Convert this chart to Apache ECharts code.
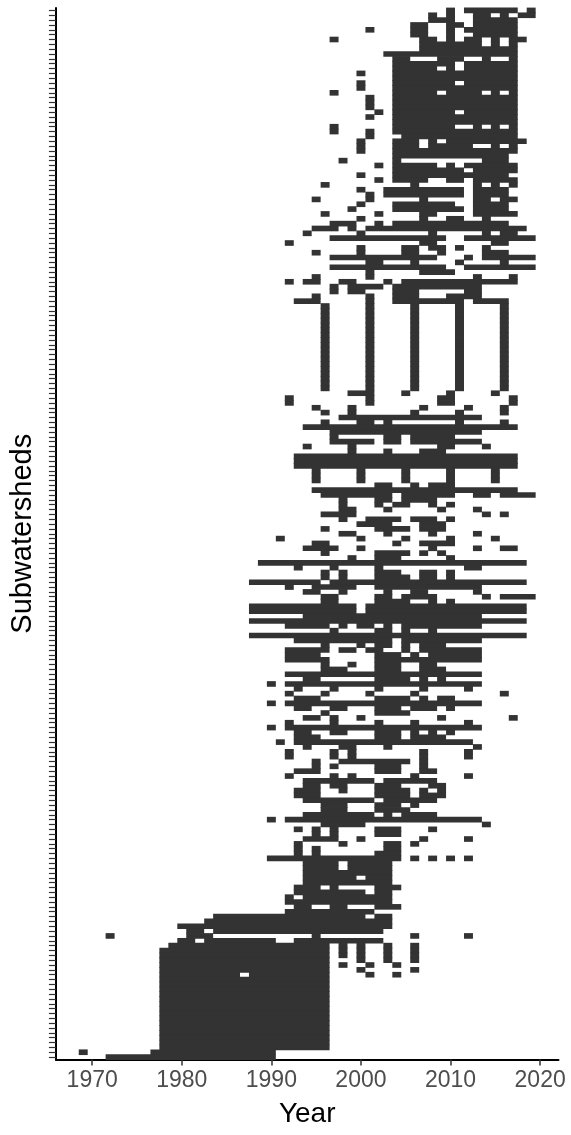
<!DOCTYPE html>
<html>
<head>
<meta charset="utf-8">
<script src="https://cdn.jsdelivr.net/npm/echarts@6/dist/echarts.min.js"></script>
<style>
  html, body { margin: 0; padding: 0; background: #fff; }
  #chart { width: 571px; height: 1135px; }
</style>
</head>
<body>
<div id="chart"></div>
<script>
// years with data per subwatershed, top row first; [y] = one year, [a, b] = a..b
const rowsTop = [
  [[2010],[2012,2017],[2019]],
  [[2008],[2010],[2013,2014],[2016],[2018,2019]],
  [[2008,2010],[2013,2017]],
  [[2006,2007],[2010,2011],[2013,2017]],
  [[2001],[2006,2007],[2010],[2012,2017]],
  [[2006,2007],[2010],[2013,2017]],
  [[1997],[2007,2008],[2010],[2012,2013],[2015],[2017,2018]],
  [[2007,2013],[2015],[2017]],
  [[2007,2017]],
  [[2003,2017]],
  [[2004,2005],[2009,2011],[2014],[2017]],
  [[2004,2010],[2012,2017]],
  [[2004,2008],[2010],[2012,2017]],
  [[2000],[2004,2017]],
  [[2004,2017]],
  [[2000],[2004,2010],[2012,2017]],
  [[2000],[2004,2017]],
  [[1997],[2004,2008],[2010,2013],[2015],[2017]],
  [[2001],[2004,2017]],
  [[2001],[2004,2017]],
  [[2001],[2004,2017]],
  [[2002],[2004,2010],[2012,2017]],
  [[2001],[2004,2017]],
  [[2004,2017]],
  [[1997],[2004,2010],[2013],[2015],[2017]],
  [[1997],[2001],[2004,2017]],
  [[2001],[2005,2017]],
  [[2000],[2004,2006],[2008],[2010,2018]],
  [[2000],[2004,2006],[2008,2012],[2015],[2017]],
  [[2000],[2004,2017]],
  [[2004,2016]],
  [[1998],[2004],[2014,2016]],
  [[2002],[2004,2008],[2010],[2012,2017]],
  [[2004,2011],[2013,2017]],
  [[2000],[2004,2016]],
  [[2002],[2004,2007],[2010,2011],[2013,2017]],
  [[1996],[2006],[2013],[2015],[2017]],
  [[2000],[2003,2011],[2013,2016]],
  [[2001],[2003,2011],[2013,2016]],
  [[1995],[2001],[2007],[2013,2014],[2016,2017]],
  [[2000],[2004,2010],[2013,2016]],
  [[1999],[2004,2011],[2013,2016]],
  [[1996],[2002],[2007,2008],[2013,2017]],
  [[2000],[2007],[2010,2011],[2014]],
  [[1997,1999],[2002],[2004,2016]],
  [[1995,1997],[1999],[2001,2018]],
  [[1994],[2000],[2008],[2014],[2016,2017]],
  [[1997,2009],[2012,2019]],
  [[1992],[2007,2008],[2015,2016]],
  [[2000],[2005,2006],[2008,2009],[2011],[2014]],
  [[1995],[2000],[2005,2006],[2009],[2014,2016]],
  [[1997,2008],[2012],[2014,2019]],
  [[2001,2002],[2006],[2011],[2016]],
  [[1997,2009],[2012,2019]],
  [[2001],[2007,2010]],
  [[1995],[2001],[2013],[2017]],
  [[1992],[1994,1995],[1998,1999],[2003],[2005,2017]],
  [[1997],[1999,2002],[2004,2013]],
  [[1997],[1999,2000],[2004,2006],[2012,2013]],
  [[1995],[2001],[2004,2006],[2010,2013]],
  [[1993,1995],[2001],[2004,2011],[2013,2016]]
];

const rowsFiveYearly = [
  [[1996],[2001],[2006],[2011],[2016]],
  [[1996],[2001],[2006],[2011],[2016]],
  [[1996],[2001],[2006],[2011],[2016]],
  [[1996],[2001],[2006],[2011],[2016]],
  [[1996],[2001],[2006],[2011],[2016]],
  [[1996],[2001],[2006],[2011],[2016]],
  [[1996],[2001],[2006],[2011],[2016]],
  [[1996],[2001],[2006],[2011],[2016]],
  [[1996],[2001],[2006],[2011],[2016]],
  [[1996],[2001],[2006],[2011],[2016]],
  [[1996],[2001],[2006],[2011],[2016]],
  [[1996],[2001],[2006],[2011],[2016]],
  [[1996],[2001],[2006],[2011],[2016]],
  [[1996],[2001],[2006],[2011],[2016]],
  [[1996],[2001],[2006],[2011],[2016]],
  [[1996],[2001],[2006],[2011],[2016]],
  [[1996],[2001],[2006],[2011],[2016]],
  [[1996],[2001],[2006],[2011],[2016]]
];

const rowsMiddle = [
  [[1999,2001],[2005],[2010],[2015]],
  [[1992],[2001],[2009,2010],[2017]],
  [[1992],[2001],[2009,2010],[2017]],
  [[1995],[1999],[2007],[2012],[2016]],
  [[1996],[1999],[2006],[2011],[2016]],
  [[1998,2013]],
  [[1996],[2000,2001],[2003],[2011],[2016]],
  [[1994,2017]],
  [[1997,2013]],
  [[1997],[2003,2004],[2006,2010]],
  [[1997,2001],[2003,2004],[2006,2013]],
  [[1994],[1999],[2009,2010],[2014]],
  [[1999],[2003],[2007,2009]],
  [[1993,2017]],
  [[1993,2017]],
  [[1993,2017]],
  [[1995],[2000],[2005],[2010],[2015]],
  [[1995],[2000],[2005],[2010],[2015]],
  [[1995],[2000],[2005],[2010],[2015]],
  [[2002,2003],[2006],[2008,2010]],
  [[1995,2017]],
  [[1996,2003],[2005,2010],[2013,2014],[2016,2019]],
  [[1998],[2002,2003],[2005,2008]],
  [[1998],[2002],[2004,2005],[2008],[2010]],
  [[1998,1999],[2003],[2009],[2013]],
  [[1996,1999],[2014],[2016]],
  [[1998],[2001,2004],[2006,2008],[2010]],
  [[2000,2003],[2007,2009]],
  [[1996],[2002,2005],[2007,2009]],
  [[1998,1999],[2003],[2008],[2013]],
  [[1991],[2000],[2005],[2010],[2015]],
  [[1995,1996],[2004],[2007,2010]],
  [[1994,1997],[2000],[2008],[2013],[2016,2017]],
  [[1996],[2002,2005],[2007],[2009]],
  [[1999],[2002,2004],[2010]],
  [[1989,2018]],
  [[1993],[1997],[2002],[2012,2013]],
  [[1996],[1998],[2002,2004],[2007,2008],[2010]],
  [[1996],[1998],[2002,2005],[2007,2008],[2010]],
  [[1988,1995],[1997,2018]],
  [[1992],[1995,1999],[2002,2013]],
  [[1994,1995],[1998],[2003],[2006,2007],[2013]],
  [[1996,1997],[2002,2003],[2005,2008],[2014],[2016,2019]],
  [[1996,1997],[2002,2005],[2008],[2010]],
  [[1988,1999],[2001,2018]],
  [[1988,1999],[2001,2018]],
  [[1994,2013]],
  [[1988,2018]],
  [[1992,1996],[1998],[2000,2001],[2003],[2005,2013]],
  [[1997],[2002,2003],[2005],[2008]],
  [[1988,2018]],
  [[1993,2003],[2005,2013]],
  [[1996],[2000],[2002,2003],[2005],[2007,2009]],
  [[1992,1996],[1998,1999],[2001,2002],[2005],[2007,2013]],
  [[1992,1995],[2002,2004],[2006],[2008,2013]],
  [[1992,1996],[2002,2013]],
  [[1996],[1999],[2002,2004],[2007,2008]],
  [[1996,1998],[2002,2004],[2007,2009]],
  [[1992,2013]],
  [[1994,1995],[2002,2005],[2007],[2009]]
];

const rowsLower = [
  [[1990],[1992,2013]],
  [[1993],[1997],[2002],[2007],[2012]],
  [[1992],[1996],[2001],[2006],[2016]],
  [[1993,1995],[2002,2005],[2007],[2009,2010]],
  [[1990],[1992,2013]],
  [[1993,1994],[1997,1998],[2002,2004],[2006,2008],[2010]],
  [[1996],[2002,2005]],
  [[1994,1995],[1997],[2000],[2009],[2017]],
  [[1992],[1997],[2002],[2006],[2012]],
  [[1990],[1992,2013]],
  [[1993,1994],[1997,1998],[2002,2004],[2006],[2008],[2010]],
  [[1993,1995],[2002,2004],[2006,2009]],
  [[1991],[1993,2012]],
  [[1994],[1998,1999],[2003],[2013]],
  [[1992],[1997],[1999],[2007],[2012]],
  [[1992],[1997],[1999],[2007],[2012]],
  [[1995],[1998,2005],[2007]],
  [[1995],[1997],[2002,2004],[2007]],
  [[1993,1995],[2002,2004],[2007,2008]],
  [[1992],[1997],[1999],[2006],[2012]],
  [[1994,2001],[2003,2008]],
  [[1994,1995],[1997,1998],[2002,2004],[2008,2009]],
  [[1993,1995],[1998],[2002,2005],[2007],[2009]],
  [[1993,1995],[2002,2005],[2007,2009]],
  [[1994,2001],[2003,2008]],
  [[1996,1998],[2002,2004],[2006]],
  [[1996,1998],[2002,2005]],
  [[1994,2001],[2003],[2005,2008]],
  [[1990],[1992,2013]],
  [[1996,2000],[2014]],
  [[1993],[1995],[1997],[2002,2004],[2008]],
  [[1995],[1997],[2002,2004]],
  [[1994,1997],[2000],[2007],[2012]],
  [[1993],[1998],[2003,2004],[2006]],
  [[1993],[1995],[2003,2004]],
  [[1993],[1995],[2002,2004]],
  [[1990,2004],[2006],[2008],[2010],[2012]],
  [[1994,1997],[1999,2003]],
  [[1994,1997],[1999,2003]],
  [[1994,2003]],
  [[1994,1999],[2001,2003]],
  [[1994,2003]],
  [[1993,1995],[1997],[2002,2004]],
  [[1993,2000],[2002,2003]],
  [[1992],[1994,2003]],
  [[1992,2003]],
  [[1993,1994],[1997,1998],[2002,2004]],
  [[1992,2001]]
];

const rowsBottom = [
  [[1984,2000],[2002,2003]],
  [[1983,2003]],
  [[1980,2003]],
  [[1981,1982],[1984,2002]],
  [[1972],[1981,1983],[1995],[2006],[2012]],
  [[1980,1981],[1983,1990],[1993,2002]],
  [[1979,1996],[1998],[2000],[2003],[2006]],
  [[1978,1996],[1998],[2000],[2003],[2006]],
  [[1978,1996],[1998],[2000],[2003],[2006]],
  [[1978,1996],[2000],[2003],[2006]],
  [[1978,1996],[1998],[2001],[2004]],
  [[1978,1996],[2000],[2006]],
  [[1978,1986],[1988,1996],[2001],[2004]],
  [[1978,1996]],
  [[1978,1996]],
  [[1978,1996]],
  [[1978,1996]],
  [[1978,1996]],
  [[1978,1996]],
  [[1978,1996]],
  [[1978,1996]],
  [[1978,1996]],
  [[1978,1996]],
  [[1978,1996]],
  [[1978,1996]],
  [[1978,1996]],
  [[1978,1996]],
  [[1978,1996]],
  [[1969],[1977,1990]],
  [[1972,1990]]
];

const yearTicks = [1970, 1980, 1990, 2000, 2010, 2020];

const rows = [].concat(rowsTop, rowsFiveYearly, rowsMiddle, rowsLower, rowsBottom);
const rowNames = rows.map((r, i) => 'SW' + (i + 1));

// one item per run of consecutive years: [first, last, row]
const segments = [];
rows.forEach((segs, i) => {
  segs.forEach(s => segments.push([s[0], s.length > 1 ? s[1] : s[0], i]));
});

const renderTile = (params, api) => {
  const row = api.value(2);
  const left = api.coord([api.value(0) - 0.5, row]);
  const right = api.coord([api.value(1) + 0.5, row]);
  const h = api.size([0, 1])[1];
  return {
    type: 'rect',
    shape: { x: left[0], y: left[1] - h / 2 - 0.4, width: right[0] - left[0], height: h + 0.8 },
    style: { fill: '#333333' }
  };
};

const chart = echarts.init(document.getElementById('chart'));

chart.setOption({
  animation: false,
  backgroundColor: '#fff',
  textStyle: { fontFamily: 'Liberation Sans, Arial, sans-serif' },
  grid: { left: 55, right: 12.5, top: 8, bottom: 75.5 },
  xAxis: {
    type: 'value',
    min: 1965.95,
    max: 2022.05,
    name: 'Year',
    nameLocation: 'middle',
    nameGap: 41,
    nameTextStyle: { fontSize: 28, color: '#000' },
    axisLine: { show: true, onZero: false, lineStyle: { color: '#000', width: 2 } },
    axisTick: { show: true, customValues: yearTicks, length: 6, lineStyle: { color: '#333', width: 1.5 } },
    axisLabel: {
      customValues: yearTicks,
      fontSize: 23,
      color: '#4d4d4d',
      margin: 10,
      formatter: v => String(v)
    },
    splitLine: { show: false }
  },
  yAxis: {
    type: 'category',
    data: rowNames,
    inverse: true,
    name: 'Subwatersheds',
    nameLocation: 'middle',
    nameGap: 16,
    nameRotate: 90,
    nameTextStyle: { fontSize: 29, color: '#000' },
    axisLine: { show: true, lineStyle: { color: '#000', width: 2 } },
    axisTick: { show: true, alignWithLabel: true, interval: 0, length: 7, lineStyle: { color: '#333', width: 1.2 } },
    axisLabel: { show: true, interval: 0, formatter: () => '' },
    splitLine: { show: false }
  },
  series: [
    {
      type: 'custom',
      renderItem: renderTile,
      encode: { x: [0, 1], y: 2 },
      data: segments
    }
  ]
});
</script>
</body>
</html>
